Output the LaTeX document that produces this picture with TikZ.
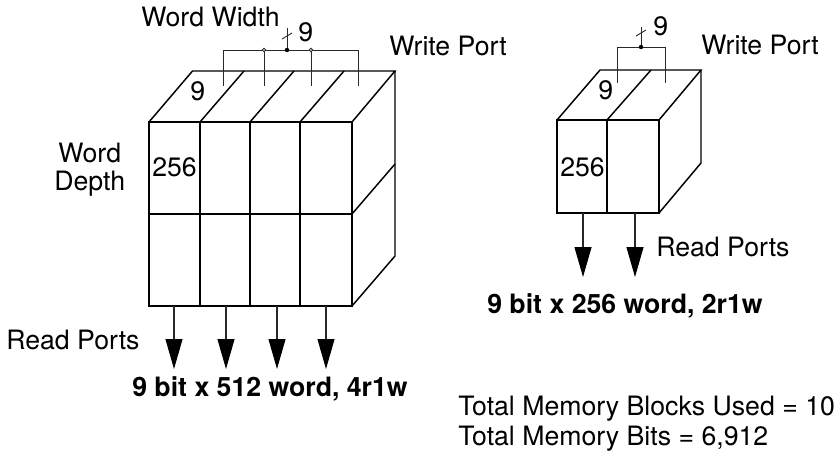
\documentclass[tikz,border=0pt]{standalone}
\usepackage{fontspec}
\setmainfont{TeX Gyre Heros}
\usetikzlibrary{arrows.meta}

\begin{document}
\begin{tikzpicture}[x=0.75pt,y=0.75pt,yscale=-1,xscale=1,
	block/.style={line width=1.1pt,line join=miter},
	bus/.style={line width=0.7pt,color={rgb,255:red,40;green,40;blue,40}},
	readport/.style={line width=0.8pt,color={rgb,255:red,40;green,40;blue,40},-{Triangle[length=22.5pt,width=12.75pt,color=black]}},
	label/.style={anchor=base west,inner sep=0pt,font=\fontsize{20}{24}\selectfont},
	boldlabel/.style={label,font=\fontsize{20}{24}\selectfont\bfseries}]
	\useasboundingbox (0,0) rectangle (838,450);

	%Left block: front faces
	\draw [block] (149,122) rectangle (352,306);
	\draw [block] (149,214) -- (352,214);
	\draw [block] (200,122) -- (200,306);
	\draw [block] (250,122) -- (250,306);
	\draw [block] (300,122) -- (300,306);
	%Left block: top face
	\draw [block] (149,122) -- (192.5,71) -- (395,71) -- (352,122);
	\draw [block] (200,122) -- (244,71);
	\draw [block] (250,122) -- (294,71);
	\draw [block] (300,122) -- (344,71);
	%Left block: side face
	\draw [block] (395,71) -- (395,256) -- (352,306);
	\draw [block] (352,214) -- (395,164);

	%Left write port
	\draw [bus] (223,85.5) -- (223,50) -- (358,50) -- (358,85.5);
	\draw [bus] (264,85.5) -- (264,50);
	\draw [bus] (311,85.5) -- (311,50);
	\draw [bus] (287,50) -- (287,28);
	\draw [bus] (282,39) -- (292,33);
	\draw [bus,fill=white] (264,50) circle (1.8);
	\draw [bus,fill=white] (311,50) circle (1.8);
	\fill (287,50) circle (2.2);

	%Left read ports
	\coordinate (leftreada) at (174,306);
	\coordinate (leftreadb) at (226,306);
	\coordinate (leftreadc) at (277,306);
	\coordinate (leftreadd) at (326,306);
	\draw [readport] (leftreada) -- (174,369);
	\draw [readport] (leftreadb) -- (226,369);
	\draw [readport] (leftreadc) -- (277,369);
	\draw [readport] (leftreadd) -- (326,369);

	%Right block: front faces
	\draw [block] (557,120) rectangle (659,213);
	\draw [block] (607,120) -- (607,213);
	%Right block: top face
	\draw [block] (557,120) -- (600,70) -- (701,70) -- (659,120);
	\draw [block] (607,120) -- (651,70);
	%Right block: side face
	\draw [block] (701,70) -- (701,163) -- (659,213);

	%Right write port
	\draw [bus] (617,83) -- (617,47) -- (665,47) -- (665,83);
	\draw [bus] (641,47) -- (641,27);
	\draw [bus] (636,36) -- (646,30);
	\fill (641,47) circle (2.2);

	%Right read ports
	\coordinate (rightreada) at (583,213);
	\coordinate (rightreadb) at (635,213);
	\draw [readport] (rightreada) -- (583,277);
	\draw [readport] (rightreadb) -- (635,277);

	% Text Node
	\node (leftwidth) at (141,26.5) [label] {Word Width};
	% Text Node
	\node (leftbits) at (298,41) [label] {9};
	% Text Node
	\node (leftwrite) at (389,55) [label] {Write Port};
	% Text Node
	\node (lefttopbits) at (190,100.5) [label] {9};
	% Text Node
	\node (leftword) at (58,162.5) [label] {Word};
	% Text Node
	\node (leftdepth) at (54,190.5) [label] {Depth};
	% Text Node
	\node (leftcell) at (152,176.5) [label] {256};
	% Text Node
	\node (leftread) at (6,349) [label] {Read Ports};
	% Text Node
	\node (lefttitle) at (132,396.5) [boldlabel] {9 bit x 512 word, 4r1w};
	% Text Node
	\node (rightbits) at (653,35) [label] {9};
	% Text Node
	\node (rightwrite) at (701,54.5) [label] {Write Port};
	% Text Node
	\node (righttopbits) at (598,99.5) [label] {9};
	% Text Node
	\node (rightcell) at (560,176.5) [label] {256};
	% Text Node
	\node (rightread) at (656,256) [label] {Read Ports};
	% Text Node
	\node (righttitle) at (487,313) [boldlabel] {9 bit x 256 word, 2r1w};
	% Text Node
	\node (totalblocks) at (458,415.5) [label] {Total Memory Blocks Used = 10};
	% Text Node
	\node (totalbits) at (458,445) [label] {Total Memory Bits = 6,912};
\end{tikzpicture}
\end{document}
